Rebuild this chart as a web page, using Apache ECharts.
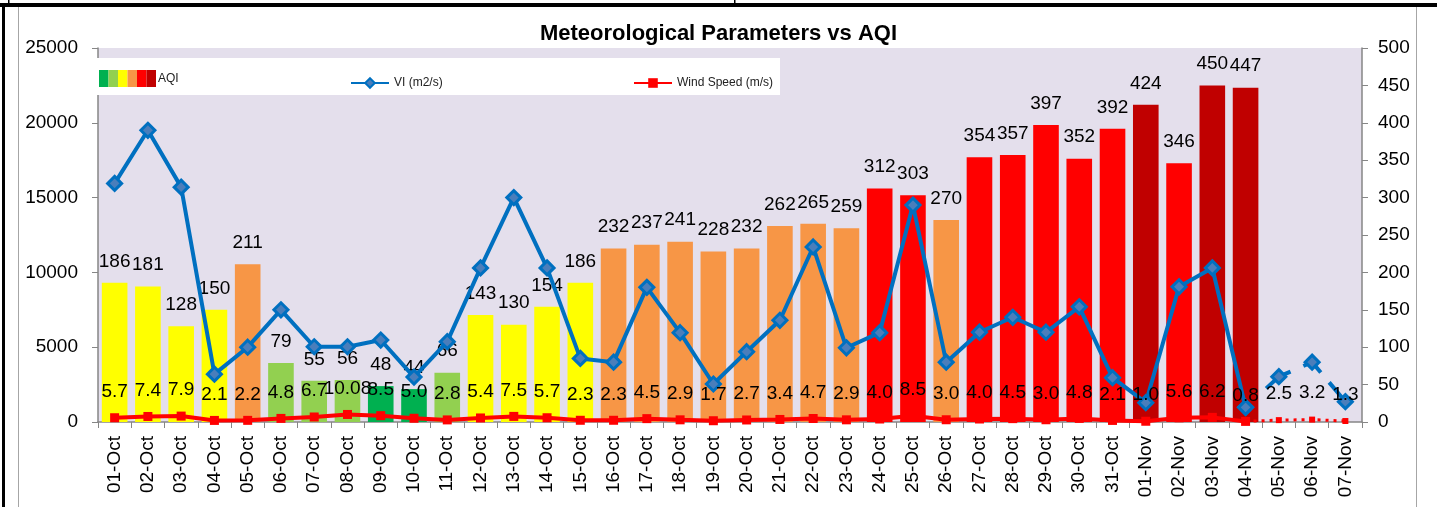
<!DOCTYPE html>
<html>
<head>
<meta charset="utf-8">
<script src="https://cdn.jsdelivr.net/npm/echarts@6/dist/echarts.min.js"></script>
<style>
  html, body { margin: 0; padding: 0; background: #fff; }
  #chart { width: 1437px; height: 507px; }
</style>
</head>
<body>
<div id="chart"></div>
<script>
// ---- data ----
const categories = ['01-Oct','02-Oct','03-Oct','04-Oct','05-Oct','06-Oct','07-Oct','08-Oct','09-Oct','10-Oct',
  '11-Oct','12-Oct','13-Oct','14-Oct','15-Oct','16-Oct','17-Oct','18-Oct','19-Oct','20-Oct',
  '21-Oct','22-Oct','23-Oct','24-Oct','25-Oct','26-Oct','27-Oct','28-Oct','29-Oct','30-Oct',
  '31-Oct','01-Nov','02-Nov','03-Nov','04-Nov','05-Nov','06-Nov','07-Nov'];
const aqiValues = [186,181,128,150,211,79,55,56,48,44,
  66,143,130,154,186,232,237,241,228,232,
  262,265,259,312,303,270,354,357,397,352,
  392,424,346,450,447,null,null,null];
const viValues = [15950,19500,15700,3200,5000,7500,5030,5030,5480,3000,
  5370,10300,15000,10300,4250,4000,9000,5970,2540,4700,
  6800,11700,4960,5970,14500,4000,6000,7000,6000,7700,
  2960,1290,9040,10300,980,3030,4000,1360];
const windValues = [5.7,7.4,7.9,2.1,2.2,4.8,6.7,10.08,8.5,5.0,
  2.8,5.4,7.5,5.7,2.3,2.3,4.5,2.9,1.7,2.7,
  3.4,4.7,2.9,4.0,8.5,3.0,4.0,4.5,3.0,4.8,
  2.1,1.0,5.6,6.2,0.8,2.5,3.2,1.3];
const forecastStart = 35; // index of 05-Nov
const leftTicks = { min: 0, max: 25000, interval: 5000 };
const rightTicks = { min: 0, max: 500, interval: 50 };

// ---- styling ----
const FONT = 'Liberation Sans';
const aqiPalette = ['#00B050', '#92D050', '#FFFF00', '#F79646', '#FF0000', '#C00000'];
function aqiColor(v) {
  if (v <= 50) return aqiPalette[0];
  if (v <= 100) return aqiPalette[1];
  if (v <= 200) return aqiPalette[2];
  if (v <= 300) return aqiPalette[3];
  if (v <= 400) return aqiPalette[4];
  return aqiPalette[5];
}
function fmtWind(v) {
  return Math.round(v * 10) === v * 10 ? v.toFixed(1) : String(v);
}

const viSolid = viValues.map((v, i) => i < forecastStart ? v : null);
const viForecast = viValues.map((v, i) => i >= forecastStart - 1 ? v : null);
const windSolid = windValues.map((v, i) => i < forecastStart ? v : null);
const windForecast = windValues.map((v, i) => i >= forecastStart - 1 ? v : null);

const chart = echarts.init(document.getElementById('chart'), null, { renderer: 'canvas' });

const swatches = aqiPalette.map((c, i) => ({
  type: 'rect', z: 5,
  shape: { x: 99 + i * 9.5, y: 70, width: 9.5, height: 17 },
  style: { fill: c }
}));

const option = {
  animation: false,
  backgroundColor: '#ffffff',
  textStyle: { fontFamily: FONT, color: '#000' },
  title: {
    text: 'Meteorological Parameters vs AQI',
    left: 'center', top: 18,
    textStyle: { fontFamily: FONT, fontWeight: 'bold', fontSize: 22, color: '#000' }
  },
  legend: [
    { data: ['VI (m2/s)'], left: 345, top: 72, itemWidth: 38, itemHeight: 12, itemGap: 4,
      textStyle: { fontFamily: FONT, fontSize: 12, color: '#222' } },
    { data: ['Wind Speed (m/s)'], left: 628, top: 72, itemWidth: 38, itemHeight: 12, itemGap: 4,
      textStyle: { fontFamily: FONT, fontSize: 12, color: '#222' } }
  ],
  grid: {
    left: 98, right: 75, top: 48, bottom: 85,
    show: true, backgroundColor: '#E4DFEC', borderWidth: 0
  },
  xAxis: {
    type: 'category',
    data: categories,
    boundaryGap: true,
    axisLine: { lineStyle: { color: '#868686', width: 1.5 } },
    axisTick: { show: true, interval: 0, length: 6, lineStyle: { color: '#868686' } },
    axisLabel: { interval: 0, rotate: 90, fontSize: 19, fontFamily: FONT, color: '#000', margin: 14 },
    splitLine: { show: false }
  },
  yAxis: [
    {
      type: 'value', min: leftTicks.min, max: leftTicks.max, interval: leftTicks.interval,
      axisLine: { show: true, lineStyle: { color: '#868686', width: 1.5 } },
      axisTick: { show: true, length: 6, lineStyle: { color: '#868686' } },
      axisLabel: { fontSize: 19, fontFamily: FONT, color: '#000', margin: 20, formatter: v => String(v) },
      splitLine: { show: false }
    },
    {
      type: 'value', min: rightTicks.min, max: rightTicks.max, interval: rightTicks.interval,
      position: 'right',
      axisLine: { show: true, lineStyle: { color: '#868686', width: 1.5 } },
      axisTick: { show: true, length: 6, lineStyle: { color: '#868686' } },
      axisLabel: { fontSize: 19, fontFamily: FONT, color: '#000', margin: 16, formatter: v => String(v) },
      splitLine: { show: false }
    }
  ],
  series: [
    {
      name: 'AQI', type: 'bar', yAxisIndex: 1, data: aqiValues, barWidth: '77%', z: 2,
      itemStyle: { color: p => aqiColor(p.value) },
      label: { show: true, position: 'top', distance: 12, fontSize: 19, lineHeight: 19,
        fontFamily: FONT, color: '#000' }
    },
    {
      name: 'VI (m2/s)', type: 'line', yAxisIndex: 0, data: viSolid, z: 4,
      symbol: 'diamond', symbolSize: 14, showAllSymbol: true,
      lineStyle: { color: '#0070C0', width: 4 },
      itemStyle: { color: '#4A7EBB', borderColor: '#0070C0', borderWidth: 3 }
    },
    {
      name: 'VI forecast', type: 'line', yAxisIndex: 0, data: viForecast, z: 4,
      symbol: 'diamond', symbolSize: 14, showAllSymbol: true,
      lineStyle: { color: '#0070C0', width: 4, type: [0, 28, 30, 14, 23, 13, 25, 60] },
      itemStyle: { color: '#4A7EBB', borderColor: '#0070C0', borderWidth: 3 }
    },
    {
      name: 'Wind Speed (m/s)', type: 'line', yAxisIndex: 1, data: windSolid, z: 5,
      symbol: 'rect', symbolSize: 9, showAllSymbol: true,
      lineStyle: { color: '#FF0000', width: 4 },
      itemStyle: { color: '#FF0000' },
      label: { show: true, position: 'top', distance: 12, fontSize: 19, lineHeight: 19,
        fontFamily: FONT, color: '#000', formatter: p => fmtWind(p.value) }
    },
    {
      name: 'Wind forecast', type: 'line', yAxisIndex: 1, data: windForecast, z: 5,
      symbol: 'rect', symbolSize: 6, showAllSymbol: true,
      lineStyle: { color: '#FF0000', width: 3, type: [3, 5] },
      itemStyle: { color: '#FF0000' },
      label: { show: true, position: 'top', distance: 14, fontSize: 19, lineHeight: 19,
        fontFamily: FONT, color: '#000',
        formatter: p => p.dataIndex >= forecastStart ? fmtWind(p.value) : '' }
    }
  ],
  graphic: [
    { type: 'rect', z: 1, shape: { x: 97, y: 58, width: 683, height: 37 }, style: { fill: '#ffffff' } },
    ...swatches,
    { type: 'text', z: 5, x: 158, y: 78.5,
      style: { text: 'AQI', font: '12px "Liberation Sans"', fill: '#222', verticalAlign: 'middle' } },
    // sheet frame
    { type: 'rect', z: 10, shape: { x: 0, y: 3, width: 1437, height: 4 }, style: { fill: '#000' } },
    { type: 'rect', z: 10, shape: { x: 2, y: 6, width: 3, height: 501 }, style: { fill: '#000' } },
    { type: 'rect', z: 10, shape: { x: 8, y: 0, width: 1.5, height: 4 }, style: { fill: '#000' } },
    { type: 'rect', z: 10, shape: { x: 734, y: 0, width: 1.5, height: 4 }, style: { fill: '#000' } },
    { type: 'line', z: 10, shape: { x1: 18.5, y1: 7, x2: 18.5, y2: 507 }, style: { stroke: '#A6A6A6', lineWidth: 1 } },
    { type: 'line', z: 10, shape: { x1: 1416.5, y1: 7, x2: 1416.5, y2: 507 }, style: { stroke: '#A6A6A6', lineWidth: 1 } }
  ]
};

chart.setOption(option);
</script>
</body>
</html>
